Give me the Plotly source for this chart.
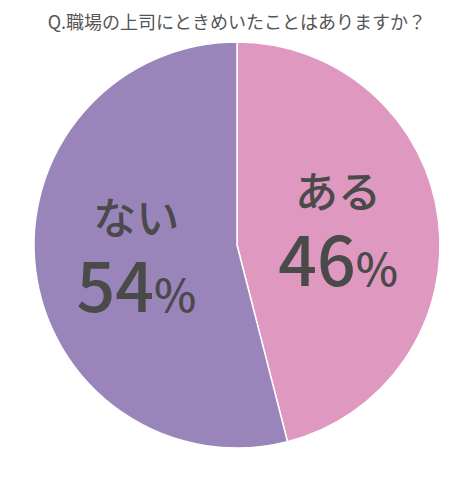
import plotly.graph_objects as go

# データ
labels = ["ある", "ない"]
values = [46, 54]
colors = ["#DF98BF", "#9A85BB"]
title_text = "Q.職場の上司にときめいたことはありますか？"

text_items = [
    f"<span style='font-size:43px'>{lab}</span><br>"
    f"<span style='font-size:68px'>{v}</span><span style='font-size:45px'>%</span>"
    for lab, v in zip(labels, values)
]

fig = go.Figure(go.Pie(
    labels=labels,
    values=values,
    text=text_items,
    textinfo="text",
    textposition="inside",
    insidetextorientation="horizontal",
    sort=False,
    direction="clockwise",
    rotation=0,
    marker=dict(colors=colors, line=dict(color="white", width=1.5)),
    textfont=dict(family="Noto Sans CJK JP", size=60, color="#4A4A4A", weight=500),
    hoverinfo="label+percent",
    showlegend=False,
))

fig.update_layout(
    width=474,
    height=488,
    margin=dict(l=26, r=42, t=34, b=48),
    paper_bgcolor="white",
    title=dict(
        text=title_text,
        x=0.483, xanchor="center",
        y=0.969, yanchor="middle",
        font=dict(family="Noto Sans CJK JP", size=18, color="#555555"),
    ),
)

fig.write_html("out.html")
